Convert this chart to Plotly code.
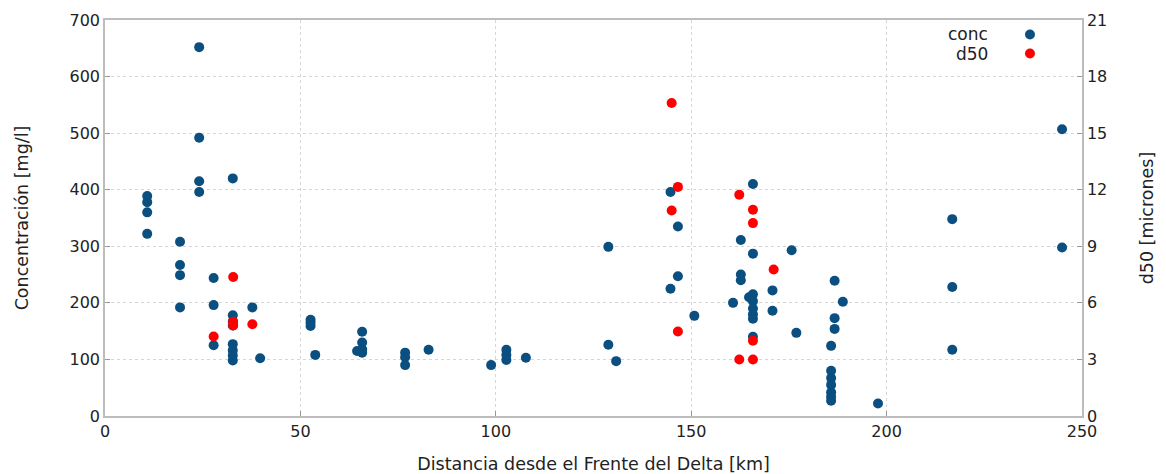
import plotly.graph_objects as go

# Concentration series (x in km, conc in mg/l)
conc_x = [10.8, 10.8, 10.8, 10.8,
          19.2, 19.2, 19.2, 19.2,
          24.1, 24.1, 24.1, 24.1,
          27.8, 27.8, 27.8,
          32.7, 32.7, 32.7, 32.7, 32.7, 32.7, 32.7, 32.7,
          37.7, 39.7,
          52.6, 52.6, 52.6, 53.8,
          64.5, 65.8, 65.8, 65.8, 65.8,
          76.8, 76.8, 76.8, 82.8,
          98.8, 102.7, 102.7, 102.7, 107.7,
          128.8, 128.8, 130.8,
          144.7, 144.7, 146.6, 146.6, 150.8,
          160.7, 162.7, 162.7, 162.7, 164.8,
          165.8, 165.8, 165.8, 165.8, 165.8, 165.8, 165.8, 165.8,
          170.8, 170.8, 175.7, 176.9,
          185.8, 185.8, 185.8, 185.8, 185.8, 185.8, 185.8,
          186.7, 186.7, 186.7, 188.8, 197.8,
          216.8, 216.8, 216.8,
          244.9, 244.9]
conc_y = [389, 378, 360, 322,
          308, 267, 249, 192,
          652, 492, 415, 396,
          244, 196, 125,
          420, 178, 167, 160, 127, 116, 107, 98,
          192, 102,
          170, 165, 159, 108,
          115, 149, 130, 118, 112,
          112, 104, 90, 117,
          90, 117, 108, 99, 103,
          299, 126, 97,
          396, 225, 335, 247, 177,
          200, 311, 250, 240, 210,
          410, 287, 215, 203, 190, 180, 172, 140,
          222, 186, 293, 147,
          124, 80, 67, 55, 42, 34, 27,
          239, 173, 154, 202, 22,
          348, 228, 117,
          298, 507]

# d50 series (x in km, d50 in microns)
d50_x = [27.8, 32.8, 32.8, 32.8, 37.7,
         145.0, 145.0, 146.6, 146.6,
         162.3, 162.3, 165.8, 165.8, 165.8, 165.8, 171.1]
d50_y = [4.22, 7.37, 5.0, 4.8, 4.87,
         16.6, 10.9, 12.15, 4.48,
         11.73, 3.0, 10.94, 10.23, 3.99, 3.0, 7.77]

x_ticks = [0, 50, 100, 150, 200, 250]
y_ticks = [0, 100, 200, 300, 400, 500, 600, 700]
y2_ticks = [0, 3, 6, 9, 12, 15, 18, 21]

BLUE = "#0b4f80"
RED = "#ff0000"
TXT = "#222222"
FRAME = "#bdbdbd"
GRID = "#d6d6d6"
FONT = "DejaVu Sans"
TITLE_SIZE = 17.5

fig = go.Figure()
fig.add_trace(go.Scatter(x=conc_x, y=conc_y, mode="markers", name=" ",
                         marker=dict(color=BLUE, size=10, line=dict(width=0))))
fig.add_trace(go.Scatter(x=d50_x, y=d50_y, mode="markers", name=" ", yaxis="y2",
                         marker=dict(color=RED, size=10, line=dict(width=0))))

axis_common = dict(showline=True, linecolor=FRAME, linewidth=1.5, mirror=True,
                   ticks="inside", ticklen=5, tickcolor="#999999", automargin=False,
                   zeroline=False, tickfont=dict(size=16, color=TXT, family=FONT))
grid_style = dict(gridcolor=GRID, griddash="dot", gridwidth=1)

fig.update_layout(
    width=1166, height=474,
    margin=dict(l=105, r=84, t=20, b=58),
    paper_bgcolor="white", plot_bgcolor="white",
    font=dict(family=FONT, color=TXT),
    showlegend=True,
    legend=dict(x=0.9263, xanchor="left", y=1.0, yanchor="top",
                bgcolor="rgba(0,0,0,0)", font=dict(size=12, family=FONT, color=TXT),
                tracegroupgap=0, itemwidth=30),
    xaxis=dict(range=[0, 250], tickvals=x_ticks, showgrid=True,
               title=dict(text="Distancia desde el Frente del Delta [km]",
                          font=dict(size=TITLE_SIZE, family=FONT, color=TXT), standoff=20),
               **axis_common, **grid_style),
    yaxis=dict(range=[0, 700], tickvals=y_ticks, showgrid=True,
               title=dict(text="Concentración [mg/l]",
                          font=dict(size=TITLE_SIZE, family=FONT, color=TXT), standoff=36),
               **axis_common, **grid_style),
    yaxis2=dict(range=[0, 21], tickvals=y2_ticks, overlaying="y", side="right",
                showgrid=False,
                title=dict(text="d50 [micrones]",
                           font=dict(size=TITLE_SIZE, family=FONT, color=TXT), standoff=34),
                **axis_common),
    annotations=[
        dict(text="conc", x=0.906, y=0.9646, xref="paper", yref="paper",
             xanchor="right", yanchor="middle", showarrow=False,
             font=dict(size=17, family=FONT, color=TXT)),
        dict(text="d50", x=0.906, y=0.914, xref="paper", yref="paper",
             xanchor="right", yanchor="middle", showarrow=False,
             font=dict(size=17, family=FONT, color=TXT)),
    ],
)

fig.write_html("out.html")
